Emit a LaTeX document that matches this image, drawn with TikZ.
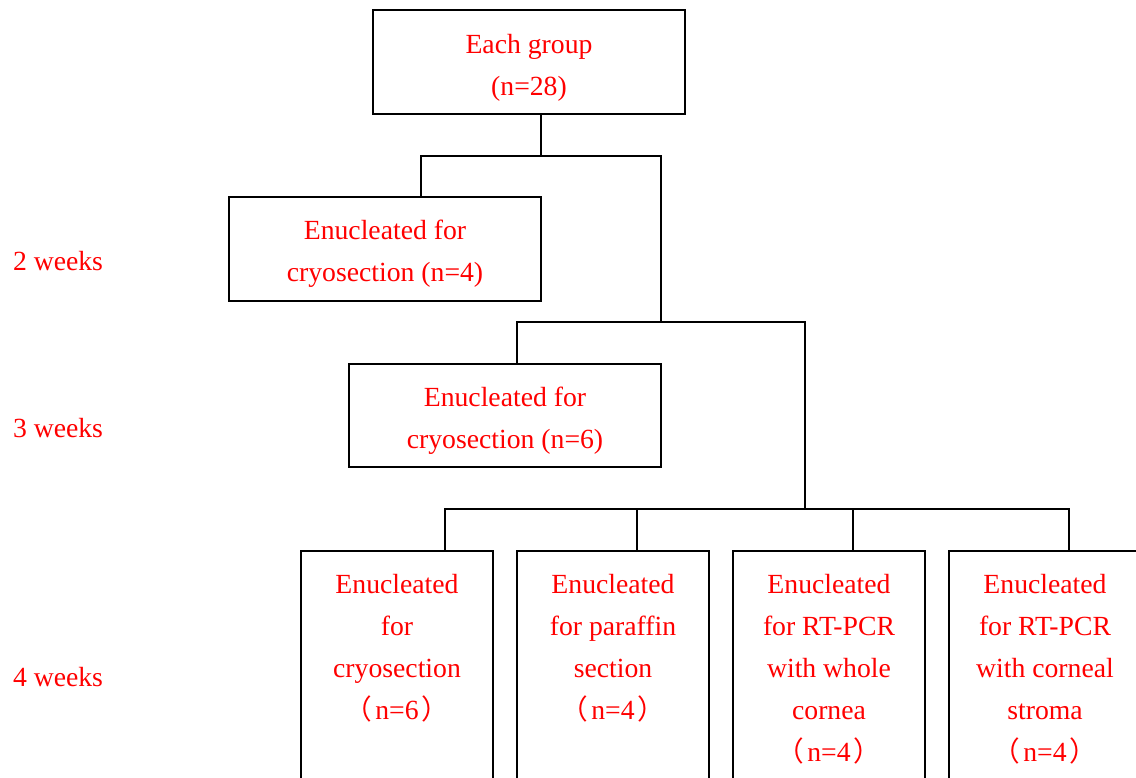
\documentclass[tikz,border=0pt]{standalone}
\usepackage{fontspec}
\setmainfont{Liberation Serif}
\newfontfamily\cjk{Noto Sans CJK SC}
\usepackage{tikz}
\usetikzlibrary{positioning}

\begin{document}
\begin{tikzpicture}[x=1pt,y=-1pt,line cap=rect,
	wire/.style={line width=1.6pt, black},
	widebox/.style={draw, line width=1.6pt, minimum width=312pt, minimum height=104pt, inner sep=0pt},
	tallbox/.style={draw, line width=1.6pt, minimum width=192pt, minimum height=260pt, inner sep=0pt},
	lbl/.style={inner sep=0pt, outer sep=0pt, align=center, text=custred, font=\fontsize{27.7pt}{42pt}\selectfont}]
					\definecolor{custred}{RGB}{255, 0, 0}
					\def\lp{{\cjk（}\hspace{3pt}}
					\def\rp{\hspace{3pt}{\cjk）}}
					\useasboundingbox (0,0) rectangle (1136,777);
					\clip (0,0) rectangle (1136,777);
					% boxes
					\node[widebox] (each) at (529.0,62.0) {};
					\node[widebox] (wkA) at (385.0,249.0) {};
					\node[widebox, minimum height=103pt] (wkB) at (505.0,415.5) {};
					\node[tallbox] (cryo) at (397.0,681.0) {};
					\node[tallbox] (paraf) at (613.0,681.0) {};
					\node[tallbox] (whole) at (829.0,681.0) {};
					\node[tallbox] (stroma) at (1045.0,681.0) {};
					% texts
					\node[lbl, anchor=north] (eacht) at (529.0,34.0) {Each group\\(n=28)};
					\node[lbl, anchor=north] (wkAt) at (385.0,220.0) {Enucleated for\\cryosection (n=4)};
					\node[lbl, anchor=north] (wkBt) at (505.0,387.0) {Enucleated for\\cryosection (n=6)};
					\node[lbl, anchor=north] (cryot) at (397.0,574.0) {Enucleated\\for\\cryosection\\\lp n=6\rp};
					\node[lbl, anchor=north] (paraft) at (613.0,574.0) {Enucleated\\for paraffin\\section\\\lp n=4\rp};
					\node[lbl, anchor=north] (wholet) at (829.0,574.0) {Enucleated\\for RT-PCR\\with whole\\cornea\\\lp n=4\rp};
					\node[lbl, anchor=north] (stromat) at (1045.0,574.0) {Enucleated\\for RT-PCR\\with corneal\\stroma\\\lp n=4\rp};
					% week labels
					\node[lbl, anchor=west] (two) at (13.0,261.0) {2 weeks};
					\node[lbl, anchor=west] (three) at (13.0,428.0) {3 weeks};
					\node[lbl, anchor=west] (four) at (13.0,677.0) {4 weeks};
					% junctions
					\coordinate (splitA) at (541.0,156.0);
					\coordinate (dropA) at (421.0,156.0);
					\coordinate (restA) at (661.0,156.0);
					\coordinate (dropB) at (517.0,322.0);
					\coordinate (restB) at (805.0,322.0);
					\coordinate (dropC) at (445.0,509.0);
					\coordinate (dropD) at (637.0,509.0);
					\coordinate (dropE) at (853.0,509.0);
					\coordinate (dropF) at (1069.0,509.0);
					\draw [wire] (each.south -| splitA) -- (splitA);
					\draw [wire] (dropA |- wkA.north) -- (dropA) -- (restA) -- (restA |- dropB);
					\draw [wire] (dropB |- wkB.north) -- (dropB) -- (restB) -- (restB |- dropC);
					\draw [wire] (dropC) -- (dropF);
					\draw [wire] (dropC) -- (dropC |- cryo.north);
					\draw [wire] (dropD) -- (dropD |- paraf.north);
					\draw [wire] (dropE) -- (dropE |- whole.north);
					\draw [wire] (dropF) -- (dropF |- stroma.north);
				\end{tikzpicture}
\end{document}
